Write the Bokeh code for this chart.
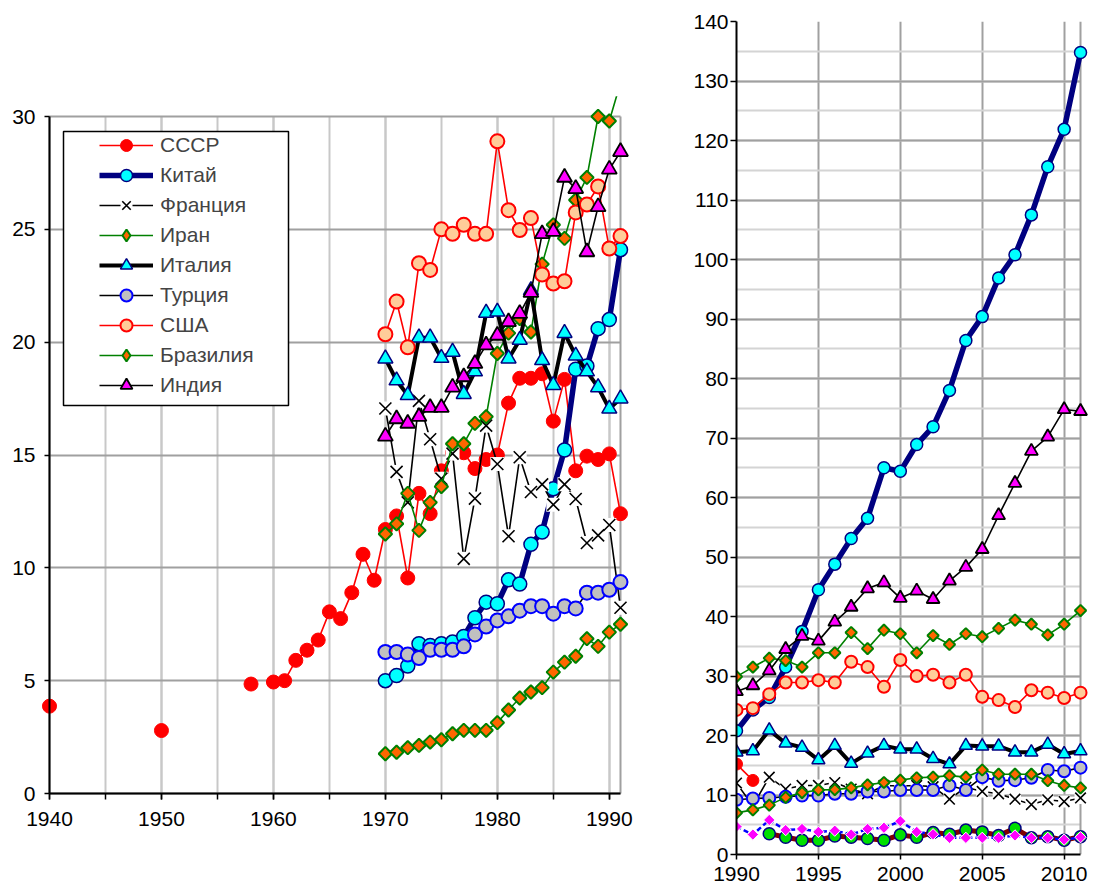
import numpy as np
from bokeh.plotting import figure
from bokeh.layouts import row
from bokeh.models import (Legend, LegendItem, SingleIntervalTicker, FixedTicker, BoxAnnotation,
                          ColumnDataSource, Grid, LinearAxis)
from bokeh.embed import file_html
from bokeh.resources import INLINE

NAN = float("nan")
FONT = "Liberation Sans"

# ---------------- data: left panel (1940-1991) ----------------
ussr_years = [1940, 1950, 1958, 1960, 1961, 1962, 1963, 1964, 1965, 1966, 1967, 1968,
              1969, 1970, 1971, 1972, 1973, 1974, 1975, 1976, 1977, 1978, 1979, 1980,
              1981, 1982, 1983, 1984, 1985, 1986, 1987, 1988, 1989, 1990, 1991]
ussr_vals = [3.87, 2.79, 4.85, 4.94, 5.0, 5.9, 6.35, 6.8, 8.05, 7.75, 8.9, 10.6,
             9.45, 11.7, 12.3, 9.55, 13.3, 12.4, 14.3, 15.1, 15.1, 14.4, 14.8, 15.0,
             17.3, 18.4, 18.4, 18.6, 16.5, 18.35, 14.3, 14.95, 14.8, 15.05, 12.4]

years_left = list(range(1970, 1992))
china_l = [5.0, 5.23, 5.65, 6.64, 6.56, 6.64, 6.71, 6.96, 7.79, 8.48, 8.41, 9.47,
           9.28, 11.04, 11.59, 13.5, 15.22, 18.8, 18.94, 20.6, 21.0, 24.1]
france_l = [17.06, 14.25, 12.9, 17.4, 15.7, 13.95, 15.06, 10.4, 13.07, 16.3, 14.6, 11.4,
            14.9, 13.36, 13.7, 12.8, 13.7, 13.05, 11.1, 11.44, 11.9, 8.23]
iran_l = [11.5, 11.95, 13.3, 11.66, 12.9, 13.6, 15.5, 15.5, 16.4, 16.7, 19.5, 20.4,
          21.05, 20.45, 23.46, 25.2, 24.6, 26.3, 27.3, 30.0, 29.8, 31.5]
italy_l = [19.27, 18.3, 17.65, 20.2, 20.2, 19.3, 19.57, 17.7, 18.7, 21.3, 21.35, 19.27,
           20.1, 22.3, 19.2, 18.1, 20.4, 19.4, 18.7, 18.0, 17.05, 17.5]
turkey_l = [6.27, 6.27, 6.16, 6.0, 6.37, 6.37, 6.37, 6.52, 7.05, 7.4, 7.67, 7.85,
            8.1, 8.3, 8.3, 7.97, 8.3, 8.2, 8.9, 8.9, 9.03, 9.37]
usa_l = [20.35, 21.8, 19.77, 23.5, 23.2, 25.0, 24.8, 25.2, 24.8, 24.8, 28.9, 25.85,
         24.97, 25.5, 23.0, 22.6, 22.7, 25.75, 26.1, 26.9, 24.15, 24.7]
brazil_l = [1.76, 1.83, 2.03, 2.13, 2.28, 2.38, 2.65, 2.8, 2.8, 2.8, 3.14, 3.7,
            4.23, 4.5, 4.69, 5.38, 5.82, 6.08, 6.86, 6.52, 7.15, 7.5]
india_l = [15.83, 16.6, 16.4, 16.7, 17.1, 17.1, 18.0, 18.46, 19.05, 19.87, 20.3, 20.9,
           21.27, 22.2, 24.8, 24.9, 27.3, 26.8, 24.0, 26.0, 27.66, 28.44]

# ---------------- data: right panel (1990-2011) ----------------
years_right = list(range(1990, 2012))
ussr_r_years = [1990, 1991]
ussr_r = [15.2, 12.45]
china_r = [20.8, 24.3, 26.4, 31.5, 37.5, 44.5, 48.8, 53.1, 56.5, 65.0, 64.4, 68.9,
           71.9, 78.0, 86.4, 90.4, 96.9, 100.8, 107.5, 115.6, 121.9, 134.8]
france_r = [12.0, 8.2, 13.0, 11.0, 11.6, 11.6, 12.1, 11.0, 10.2, 11.6, 11.5, 11.6,
            11.4, 9.3, 11.3, 10.6, 10.2, 9.3, 8.4, 9.2, 8.9, 9.5]
iran_r = [29.9, 31.5, 33.0, 32.6, 31.5, 33.9, 33.9, 37.3, 34.6, 37.7, 37.1, 33.9,
          36.8, 35.3, 37.1, 36.6, 38.0, 39.4, 38.7, 36.9, 38.7, 41.0]
italy_r = [17.2, 17.4, 20.9, 18.7, 18.0, 15.9, 18.3, 15.3, 17.0, 18.3, 17.7, 17.7,
           16.1, 15.2, 18.3, 18.2, 18.2, 17.2, 17.2, 18.5, 16.9, 17.4]
turkey_r = [9.2, 9.4, 9.5, 9.7, 9.9, 9.9, 10.2, 10.2, 10.6, 10.6, 10.85, 10.85,
            10.85, 11.6, 10.85, 13.0, 12.4, 12.5, 12.9, 14.2, 14.0, 14.6]
usa_r = [24.3, 24.6, 26.95, 28.9, 28.9, 29.3, 28.9, 32.4, 31.5, 28.2, 32.7, 30.0,
         30.2, 28.9, 30.2, 26.5, 25.95, 24.8, 27.6, 27.2, 26.3, 27.2]
brazil_r = [7.0, 7.5, 8.3, 9.6, 10.4, 10.85, 10.9, 11.2, 11.7, 12.1, 12.5, 12.9,
            13.0, 13.25, 13.0, 14.2, 13.5, 13.5, 13.5, 12.4, 11.6, 11.2]
india_r = [27.4, 28.4, 30.9, 34.5, 36.7, 35.9, 39.1, 41.6, 44.7, 45.7, 43.1, 44.3,
           42.9, 46.0, 48.3, 51.3, 57.0, 62.4, 67.8, 70.2, 74.8, 74.5]
extra_a_years = list(range(1992, 2012))
extra_a = [3.5, 2.9, 2.4, 2.4, 3.1, 2.9, 2.7, 2.4, 3.3, 2.9, 3.7, 3.4,
           4.1, 3.8, 3.2, 4.4, 2.8, 3.0, 2.4, 3.0]
extra_b = [4.7, 3.35, 5.8, 4.1, 4.3, 3.8, 4.0, 3.35, 4.3, 4.5, 5.6, 3.8,
           3.4, 2.8, 2.8, 2.8, 2.8, 3.2, 2.8, 2.8, 2.5, 2.9]

# ---------------- styles ----------------
STY = {
    "СССР":     dict(lc="red", lw=1.6, m="circle", fill="red", ml="red", mlw=1),
    "Китай":    dict(lc="#000080", lw=5.5, m="circle", fill="#00FFFF", ml="#000080", mlw=1.5),
    "Франция":  dict(lc="black", lw=1.6, m="x", fill=None, ml="black", mlw=1.6),
    "Иран":     dict(lc="#008000", lw=1.6, m="diamond", fill="#FF6600", ml="#008000", mlw=2),
    "Италия":   dict(lc="black", lw=4, m="triangle", fill="#00FFFF", ml="#000080", mlw=1.5),
    "Турция":   dict(lc="black", lw=1.6, m="circle", fill="#C0C0C0", ml="#0000FF", mlw=2),
    "США":      dict(lc="red", lw=1.6, m="circle", fill="#FFCC99", ml="red", mlw=2),
    "Бразилия": dict(lc="#008000", lw=1.6, m="diamond", fill="#FF6600", ml="#008000", mlw=2),
    "Индия":    dict(lc="black", lw=1.6, m="triangle", fill="#FF00FF", ml="black", mlw=1.8),
}
SIZE_L = {"circle": 14, "triangle": 15, "diamond": 9.5, "x": 17}
SIZE_R = {"circle": 12, "triangle": 13, "diamond": 8, "x": 15}


def draw(p, xs, ys, st, sizes, dash="solid"):
    src = ColumnDataSource(dict(x=np.array(xs, dtype=float), y=np.array(ys, dtype=float)))
    rs = [p.line("x", "y", source=src, line_color=st["lc"], line_width=st["lw"],
                 line_join="round", line_dash=dash)]
    size = sizes[st["m"]]
    if st["m"] == "x":
        rs.append(p.scatter("x", "y", source=src, marker="square", size=size - 3,
                            fill_color="white", line_color=None))
    if st["m"] == "diamond":
        p.scatter("x", "y", source=src, marker="square", angle=np.pi / 4,
                  size=size, fill_color=st["fill"], line_color=st["ml"],
                  line_width=st["mlw"])
        # legend-only sample (legend glyphs are drawn unrotated); its point is not plotted
        blank = ColumnDataSource(dict(x=np.array([NAN]), y=np.array([NAN])))
        rs.append(p.scatter("x", "y", source=blank, marker="diamond", size=size * 1.55,
                            fill_color=st["fill"], line_color=st["ml"],
                            line_width=st["mlw"]))
    else:
        rs.append(p.scatter("x", "y", source=src, marker=st["m"], size=size,
                            fill_color=st["fill"], line_color=st["ml"], line_width=st["mlw"]))
    return rs


def base_style(p):
    p.background_fill_color = "white"
    p.border_fill_color = "white"
    p.outline_line_color = None


def style_axis(ax):
    ax.axis_line_color = "black"
    ax.axis_line_width = 2
    ax.major_tick_line_color = "black"
    ax.major_tick_line_width = 1.5
    ax.minor_tick_line_color = "black"
    ax.minor_tick_line_width = 1.5
    ax.major_tick_in = 0
    ax.minor_tick_in = 0
    ax.major_label_text_font = FONT
    ax.major_label_text_font_size = "21px"
    ax.major_label_text_color = "black"


def labels_only(ax, standoff):
    style_axis(ax)
    ax.axis_line_color = None
    ax.major_tick_line_color = None
    ax.minor_tick_line_color = None
    ax.major_tick_out = 0
    ax.minor_tick_out = 0
    ax.major_label_standoff = standoff


def line_only(ax):
    style_axis(ax)
    ax.major_label_text_font_size = "0px"
    ax.major_label_text_alpha = 0
    ax.major_label_standoff = 0


HAS_CB = "cross_bounds" in Grid.properties()


def limit(grid, lo, hi):
    if HAS_CB:
        grid.cross_bounds = (lo, hi)


# ---------------- left figure ----------------
# frame: x 40..629 px, y 21..854 px ; 1940 -> 49 px, 1991 -> 620 px ; 0 -> 793 px, 30 -> 116 px
p1 = figure(width=690, height=890, x_range=(1939.196, 1991.804), y_range=(-2.703, 34.21),
            output_backend="svg", toolbar_location=None,
            min_border_left=40, min_border_right=61, min_border_top=21, min_border_bottom=36)
base_style(p1)
p1.xaxis.ticker = SingleIntervalTicker(interval=10, num_minor_ticks=2)
p1.yaxis.ticker = SingleIntervalTicker(interval=5, num_minor_ticks=0)
labels_only(p1.xaxis[0], -43)
labels_only(p1.yaxis[0], 5)

fx = LinearAxis(fixed_location=0, bounds=(1940, 1991),
                ticker=SingleIntervalTicker(interval=10, num_minor_ticks=2))
line_only(fx)
fx.major_tick_out = 6
fx.minor_tick_out = 6
p1.add_layout(fx, "below")
fy = LinearAxis(fixed_location=1940, bounds=(0, 30),
                ticker=SingleIntervalTicker(interval=5, num_minor_ticks=0))
line_only(fy)
fy.major_tick_out = 5
fy.minor_tick_out = 0
p1.add_layout(fy, "left")

p1.xgrid.grid_line_color = "#C8C8C8"
p1.xgrid.grid_line_width = 2
p1.xgrid.minor_grid_line_color = "#C8C8C8"
p1.xgrid.minor_grid_line_width = 2
p1.ygrid.grid_line_color = "#A0A0A0"
p1.ygrid.grid_line_width = 2
limit(p1.xgrid[0], 0, 30)
limit(p1.ygrid[0], 1940, 1991)
edge1 = Grid(dimension=0, ticker=FixedTicker(ticks=[1991]), grid_line_color="#A0A0A0",
             grid_line_width=2)
limit(edge1, 0, 30)
p1.add_layout(edge1)
if not HAS_CB:
    for kw in (dict(bottom=30), dict(top=0), dict(right=1940), dict(left=1991)):
        p1.add_layout(BoxAnnotation(level="underlay", fill_color="white", fill_alpha=1,
                                    line_color=None, **kw))

full_years = list(range(1940, 1992))
ussr_map = dict(zip(ussr_years, ussr_vals))
ussr_full = [ussr_map.get(y, NAN) for y in full_years]

left_series = [
    ("СССР", full_years, ussr_full),
    ("Китай", years_left, china_l),
    ("Франция", years_left, france_l),
    ("Иран", years_left, iran_l),
    ("Италия", years_left, italy_l),
    ("Турция", years_left, turkey_l),
    ("США", years_left, usa_l),
    ("Бразилия", years_left, brazil_l),
    ("Индия", years_left, india_l),
]
items = []
for name, xs, ys in left_series:
    rs = draw(p1, xs, ys, STY[name], SIZE_L)
    items.append(LegendItem(label=name, renderers=rs))

# plot-area top edge of the left chart (the line leaving the area is cut there)
p1.add_layout(BoxAnnotation(bottom=30.9, fill_color="white", fill_alpha=1.0, line_color=None))

box = BoxAnnotation(left=23, right=248, bottom=449, top=723,
                    left_units="screen", right_units="screen",
                    top_units="screen", bottom_units="screen",
                    fill_color="white", fill_alpha=1.0,
                    line_color="black", line_width=1.5, line_alpha=1.0)
p1.add_layout(box)

legend = Legend(items=items, location=(59, 454), padding=0, margin=0, spacing=0,
                glyph_width=54, glyph_height=30, label_height=30, label_standoff=7,
                label_text_font=FONT, label_text_font_size="21px",
                border_line_color=None, background_fill_alpha=0.0)
p1.add_layout(legend)

# ---------------- right figure ----------------
# frame: x 735..1088 px, y 21..854 px ; 1990 -> 735 px, 2011 -> 1080 px
p2 = figure(width=400, height=890, x_range=(1990, 2011.487), y_range=(0, 140),
            output_backend="svg", toolbar_location=None,
            min_border_left=45, min_border_right=2, min_border_top=21, min_border_bottom=36)
base_style(p2)
style_axis(p2.xaxis[0])
style_axis(p2.yaxis[0])
p2.xaxis.ticker = SingleIntervalTicker(interval=5, num_minor_ticks=0)
p2.yaxis.ticker = SingleIntervalTicker(interval=10, num_minor_ticks=2)
p2.xaxis.bounds = (1990, 2011)
p2.xaxis.major_tick_out = 5
p2.xaxis.minor_tick_out = 0
p2.xaxis.major_label_standoff = 7
p2.yaxis.major_tick_out = 6
p2.yaxis.minor_tick_out = 0
p2.yaxis.major_label_standoff = 2
p2.xgrid.grid_line_color = "#A0A0A0"
p2.xgrid.grid_line_width = 2
p2.ygrid.grid_line_color = "#A0A0A0"
p2.ygrid.grid_line_width = 2
p2.ygrid.minor_grid_line_color = "#D4D4D4"
p2.ygrid.minor_grid_line_width = 2
limit(p2.ygrid[0], 1990, 2011)
edge2 = Grid(dimension=0, ticker=FixedTicker(ticks=[2011]), grid_line_color="#A0A0A0",
             grid_line_width=2)
p2.add_layout(edge2)
if not HAS_CB:
    p2.add_layout(BoxAnnotation(level="underlay", left=2011, fill_color="white",
                                fill_alpha=1, line_color=None))

right_series = [
    ("СССР", ussr_r_years, ussr_r),
    ("Китай", years_right, china_r),
    ("Франция", years_right, france_r),
    ("Иран", years_right, iran_r),
    ("Италия", years_right, italy_r),
    ("Турция", years_right, turkey_r),
    ("США", years_right, usa_r),
    ("Бразилия", years_right, brazil_r),
    ("Индия", years_right, india_r),
]
for name, xs, ys in right_series:
    draw(p2, xs, ys, STY[name], SIZE_R)

draw(p2, extra_a_years, extra_a,
     dict(lc="#800000", lw=5, m="circle", fill="#00E000", ml="#000080", mlw=1.5), SIZE_R)
draw(p2, years_right, extra_b,
     dict(lc="#0000FF", lw=2.5, m="diamond", fill="#FF00FF", ml="white", mlw=1), SIZE_R,
     dash="5 3")

layout = row(p1, p2)
open("out.html", "w").write(file_html(layout, INLINE))
